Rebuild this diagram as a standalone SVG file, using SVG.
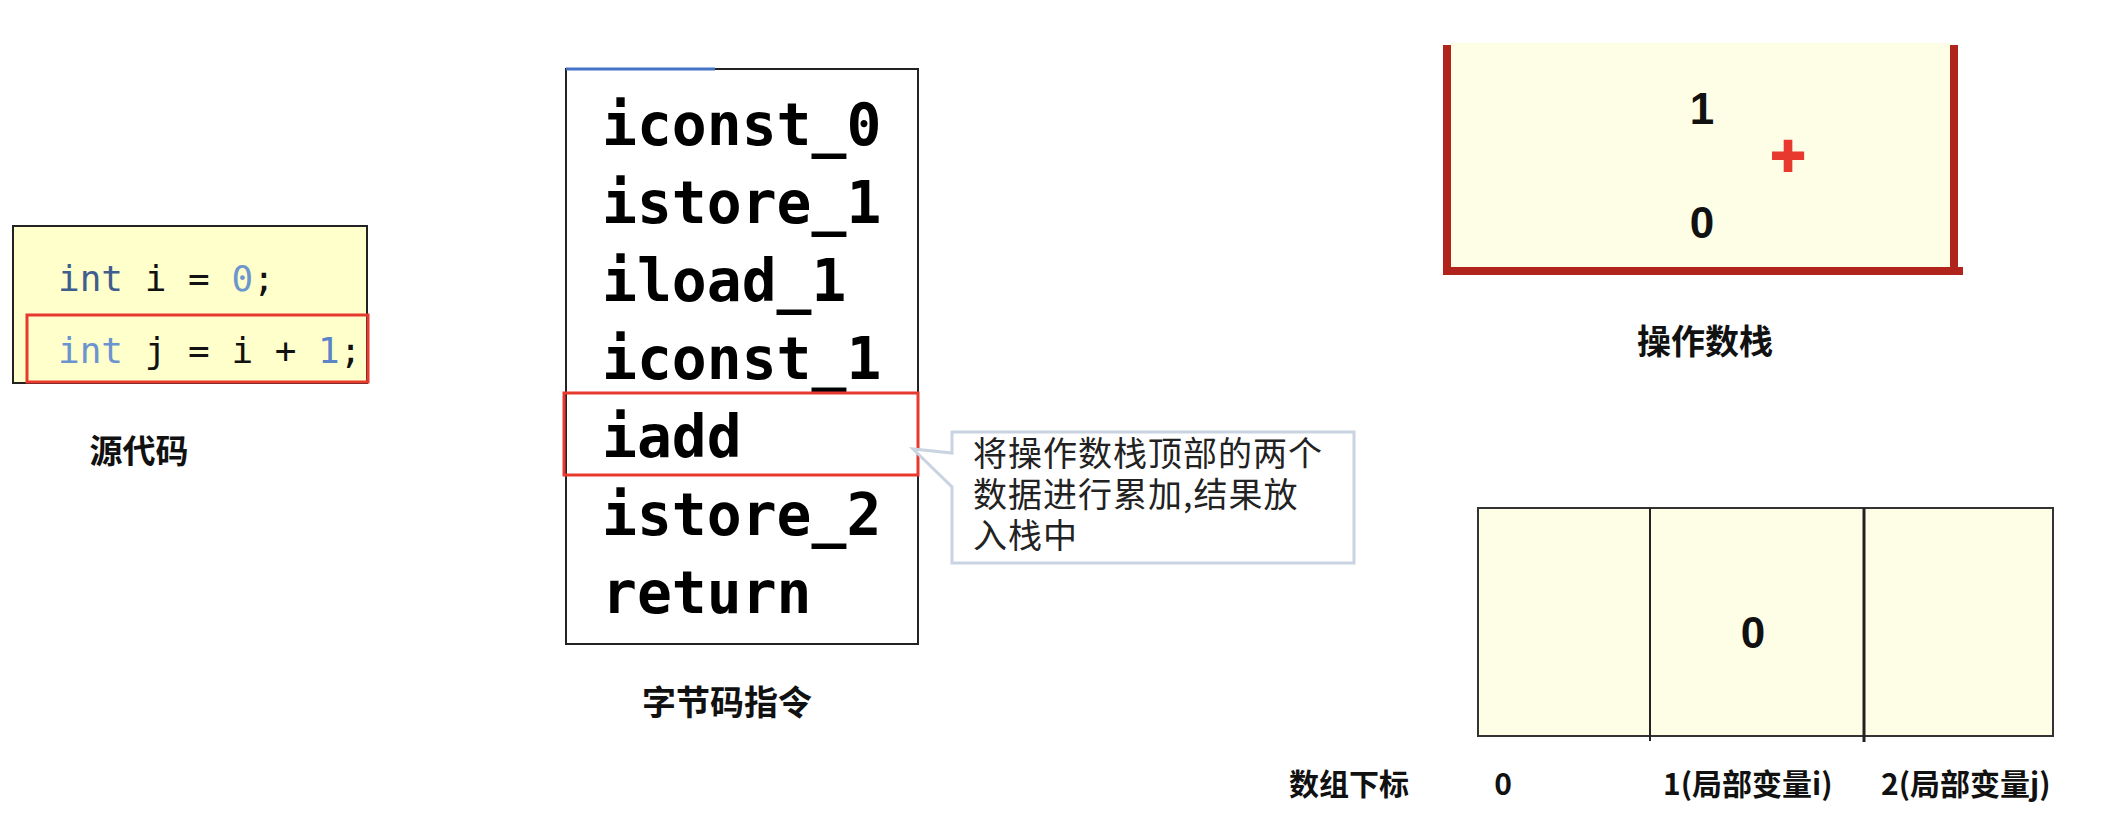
<svg xmlns="http://www.w3.org/2000/svg" width="2108" height="826" viewBox="0 0 2108 826">
<style>
.lbl{font-family:"Noto Sans CJK SC","Noto Sans",sans-serif;font-weight:bold;fill:#111}
.code{font-family:"DejaVu Sans Mono","Liberation Mono",monospace;font-size:36px}
.bc{font-family:"DejaVu Sans Mono","Liberation Mono",monospace;font-size:58px;font-weight:bold;fill:#000}
.num{font-family:"Liberation Sans","Noto Sans",sans-serif;font-weight:bold;font-size:44px;fill:#111;text-anchor:middle}
.hl{fill:none;stroke:#E8392F;stroke-width:3}
.wall{stroke:#B0241C;stroke-width:8;fill:none}
</style>
<rect width="2108" height="826" fill="#fff"/>
<g id="source-code">
<rect x="13" y="226" width="354" height="157" fill="#FFFFCC" stroke="#222" stroke-width="2"/>
<text class="code" x="58" y="291"><tspan fill="#3F5E8E">int</tspan><tspan fill="#111"> i = </tspan><tspan fill="#6E96CE">0</tspan><tspan fill="#111">;</tspan></text>
<rect class="hl" x="27" y="315" width="341" height="67"/>
<text class="code" x="58" y="363"><tspan fill="#6B93CF">int</tspan><tspan fill="#111"> j = i + </tspan><tspan fill="#5B85C5">1</tspan><tspan fill="#111">;</tspan></text>
<text class="lbl" x="139" y="463" font-size="33" text-anchor="middle">源代码</text>
</g>
<g id="bytecode">
<rect x="566" y="69" width="352" height="575" fill="#fff" stroke="#222" stroke-width="2"/>
<line x1="566" y1="69" x2="715" y2="69" stroke="#4472C4" stroke-width="3"/>
<text class="bc" x="602" y="145">iconst_0</text>
<text class="bc" x="602" y="223">istore_1</text>
<text class="bc" x="602" y="301">iload_1</text>
<text class="bc" x="602" y="379">iconst_1</text>
<text class="bc" x="602" y="457">iadd</text>
<text class="bc" x="602" y="535">istore_2</text>
<text class="bc" x="602" y="613">return</text>
<rect class="hl" x="564" y="393" width="354" height="82"/>
<text class="lbl" x="727" y="715" font-size="34" text-anchor="middle">字节码指令</text>
</g>
<g id="callout">
<path d="M952,432 H1354 V563 H952 V487 L913,449 L952,453 Z" fill="#fff" stroke="#C9D3E2" stroke-width="3" stroke-linejoin="miter"/>
<text font-family="Noto Sans CJK SC,Noto Sans,sans-serif" font-size="34" letter-spacing="1" fill="#222">
<tspan x="973" y="466">将操作数栈顶部的两个</tspan>
<tspan x="973" y="507">数据进行累加,结果放</tspan>
<tspan x="973" y="548">入栈中</tspan>
</text>
</g>
<g id="operand-stack">
<rect x="1450" y="43" width="502" height="225" fill="#FEFDE6"/>
<path class="wall" d="M1447,45 V271 M1954,45 V271 M1443,271 H1963"/>
<text class="num" x="1702" y="124">1</text>
<text class="num" x="1702" y="238">0</text>
<text x="1788" y="176" font-family="Liberation Sans,sans-serif" font-weight="bold" font-size="60" fill="#E8392F" stroke="#E8392F" stroke-width="2" text-anchor="middle">+</text>
<text class="lbl" x="1705" y="354" font-size="34" text-anchor="middle">操作数栈</text>
</g>
<g id="local-vars">
<rect x="1478" y="508" width="575" height="228" fill="#FEFDE6" stroke="#333" stroke-width="2"/>
<line x1="1650" y1="508" x2="1650" y2="741" stroke="#222" stroke-width="2"/>
<line x1="1864" y1="508" x2="1864" y2="742" stroke="#222" stroke-width="3"/>
<text class="num" x="1753" y="648">0</text>
<text class="lbl" x="1289" y="795" font-size="30">数组下标</text>
<text class="lbl" x="1503" y="795" font-size="30" text-anchor="middle">0</text>
<text class="lbl" x="1663" y="795" font-size="30">1(局部变量i)</text>
<text class="lbl" x="1881" y="795" font-size="30">2(局部变量j)</text>
</g>
<g id="connectors"></g>
</svg>
